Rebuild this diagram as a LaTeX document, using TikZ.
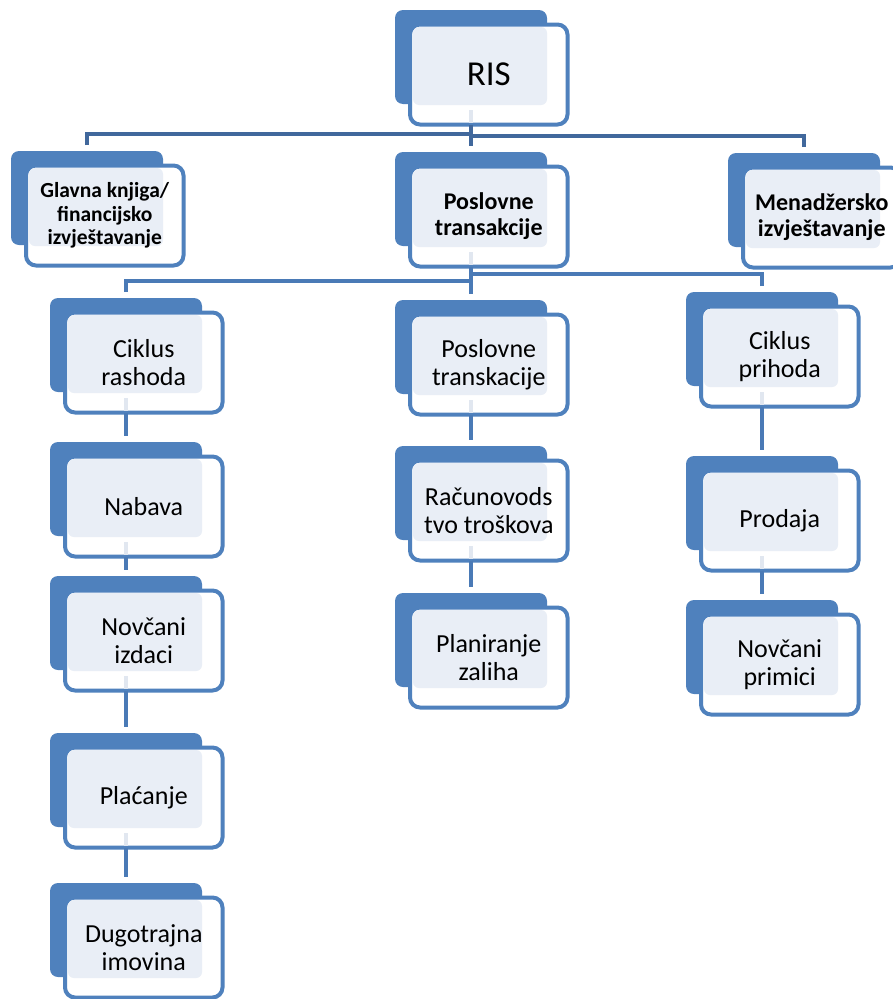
\documentclass[tikz,border=0pt]{standalone}
\usepackage{fontspec}
\setmainfont{Carlito}
\definecolor{boxblue}{HTML}{4F81BD}
\definecolor{lightfill}{HTML}{E9EEF6}
\definecolor{busdark}{HTML}{41689C}
\definecolor{connblue}{HTML}{4A7AB6}
\definecolor{palestub}{HTML}{E1E7F0}
\tikzset{
  backbox/.style={draw=none, fill=boxblue, rounded corners=8pt, minimum width=152pt,
    minimum height=94pt, anchor=north west, inner sep=0pt, outer sep=0pt},
  frontbox/.style={draw=boxblue, line width=4pt, fill=white, rounded corners=10pt,
    minimum width=157.5pt, minimum height=100pt, anchor=north west, inner sep=0pt, outer sep=0pt},
  lightbox/.style={fill=lightfill, rounded corners=6pt},
  lblbig/.style={align=center, font=\fontsize{35}{40}\selectfont, inner sep=0pt},
  lblbold/.style={align=center, font=\fontsize{24}{26}\selectfont\bfseries, inner sep=0pt},
  lblboldsm/.style={align=center, font=\fontsize{21.5}{23.5}\selectfont\bfseries, inner sep=0pt},
  lbl/.style={align=center, font=\fontsize{26}{28.5}\selectfont, inner sep=0pt},
  busline/.style={draw=busdark, line width=4pt},
  connline/.style={draw=connblue, line width=4pt},
  paleline/.style={draw=palestub, line width=4pt},
}
\newcommand\chartbox[5]{%
  \node[backbox] (#1-b) at (#2,#3) {};
  \node[frontbox] (#1) at (#2+15,#3+14.5) {};
  \fill[lightbox] (#2+18,#3+17) rectangle (#2+152,#3+95);
  \node[#4] (#1-t) at (#1.center) {#5};
  \coordinate (#1-o) at (#1-b.south |- #1.south);
}
\begin{document}
\begin{tikzpicture}[x=1pt,y=-1pt]
\useasboundingbox (0,0) rectangle (892,999);
% boxes
\chartbox{ris}{395}{10}{lblbig}{RIS}
\chartbox{gk}{11}{151}{lblboldsm}{Glavna knjiga/\\financijsko\\izvještavanje}
\chartbox{pta}{395}{152}{lblbold}{Poslovne\\transakcije}
\chartbox{mi}{728}{153}{lblbold}{Menadžersko\\izvještavanje}
\chartbox{cr}{50}{298}{lbl}{Ciklus\\rashoda}
\chartbox{nab}{50}{442}{lbl}{Nabava}
\chartbox{ni}{50}{576}{lbl}{Novčani\\izdaci}
\chartbox{pl}{50}{733}{lbl}{Plaćanje}
\chartbox{dug}{50}{883}{lbl}{Dugotrajna\\imovina}
\chartbox{ptb}{395}{300}{lbl}{Poslovne\\transkacije}
\chartbox{rac}{395}{446}{lbl}{Računovods\\tvo troškova}
\chartbox{plz}{395}{593}{lbl}{Planiranje\\zaliha}
\chartbox{cp}{686}{292}{lbl}{Ciklus\\prihoda}
\chartbox{pro}{686}{456}{lbl}{Prodaja}
\chartbox{np}{686}{600}{lbl}{Novčani\\primici}
% pale stubs inside boxes
\foreach \n in {ris,pta,cr,nab,ni,pl,ptb,rac,cp,pro}{
  \draw[paleline] ([yshift=2pt]\n-o) -- ([yshift=14.5pt]\n-o);
}
% bus coordinates
\coordinate (busL) at (0,134);
\coordinate (busR) at (0,135.5);
\coordinate (busbL) at (0,281);
\coordinate (busbR) at (0,274);
% level 1
\draw[busline] ([yshift=6pt]gk-b.north) -- (gk-b.north |- busL) -- (ris-o |- busL);
\draw[busline] ([yshift=6pt]mi-b.north) -- (mi-b.north |- busR) -- (ris-o |- busR);
\draw[busline] (ris-o) -- ([yshift=6pt]pta-b.north);
% level 2
\draw[connline] ([yshift=6pt]cr-b.north) -- (cr-b.north |- busbL) -- (pta-o |- busbL);
\draw[connline] ([yshift=6pt]cp-b.north) -- (cp-b.north |- busbR) -- (pta-o |- busbR);
\draw[connline] (pta-o) -- ([yshift=6pt]ptb-b.north);
% columns
\draw[connline] (cr-o) -- ([yshift=6pt]nab-b.north);
\draw[connline] (nab-o) -- ([yshift=6pt]ni-b.north);
\draw[connline] (ni-o) -- ([yshift=6pt]pl-b.north);
\draw[connline] (pl-o) -- ([yshift=6pt]dug-b.north);
\draw[connline] (ptb-o) -- ([yshift=6pt]rac-b.north);
\draw[connline] (rac-o) -- ([yshift=6pt]plz-b.north);
\draw[connline] (cp-o) -- ([yshift=6pt]pro-b.north);
\draw[connline] (pro-o) -- ([yshift=6pt]np-b.north);
\end{tikzpicture}
\end{document}
